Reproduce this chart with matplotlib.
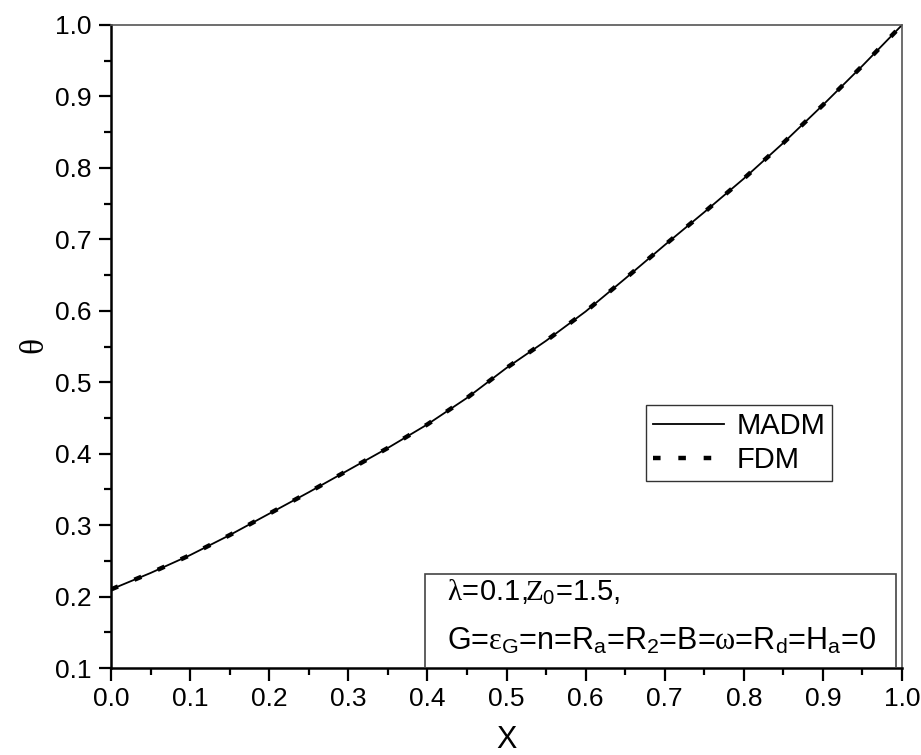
import numpy as np
import matplotlib.pyplot as plt
from matplotlib.patches import Rectangle
from matplotlib.ticker import MultipleLocator

plt.rcParams['font.family'] = ['Liberation Sans', 'DejaVu Sans']
plt.rcParams['mathtext.fontset'] = 'custom'
plt.rcParams['mathtext.rm'] = 'Liberation Sans'
plt.rcParams['mathtext.it'] = 'Liberation Serif'
plt.rcParams['mathtext.bf'] = 'Liberation Sans:bold'

# values
x = [0.0, 0.05, 0.1, 0.15, 0.2, 0.25, 0.3, 0.35, 0.4, 0.45, 0.5,
     0.55, 0.6, 0.65, 0.7, 0.75, 0.8, 0.85, 0.9, 0.95, 1.0]
theta_madm = [0.210, 0.233, 0.258, 0.286, 0.316, 0.346, 0.377, 0.408, 0.441, 0.478, 0.520,
              0.558, 0.599, 0.645, 0.692, 0.738, 0.785, 0.835, 0.888, 0.943, 1.0]
theta_fdm = theta_madm

fig = plt.figure(figsize=(9.21, 7.55), dpi=100)
ax = fig.add_axes([0.1205, 0.1152, 0.8589, 0.8517])

ax.plot(x, theta_madm, '-', color='black', lw=1.3, label='MADM')
ax.plot(x, theta_fdm, color='black', lw=3.2, dashes=(1.7, 4.0), label='FDM')

ax.set_xlim(0, 1.0)
ax.set_ylim(0.1, 1.0)
ax.xaxis.set_major_locator(MultipleLocator(0.1))
ax.xaxis.set_minor_locator(MultipleLocator(0.05))
ax.yaxis.set_major_locator(MultipleLocator(0.1))
ax.yaxis.set_minor_locator(MultipleLocator(0.05))
ax.xaxis.set_major_formatter(lambda v, p: f'{v:.1f}')
ax.yaxis.set_major_formatter(lambda v, p: f'{v:.1f}')

ax.tick_params(which='major', direction='out', length=9, width=1.6, labelsize=19, pad=5)
ax.tick_params(which='minor', direction='out', length=5, width=1.6)
ax.tick_params(top=False, right=False, which='both')

for side in ('left', 'bottom'):
    ax.spines[side].set_linewidth(1.8)
for side in ('top', 'right'):
    ax.spines[side].set_linewidth(1.2)
    ax.spines[side].set_color('#555555')

ax.set_xlabel('X', fontsize=22, labelpad=10)
ax.set_ylabel(r'$\theta$', fontsize=24, labelpad=3)

leg = ax.legend(loc='upper left', bbox_to_anchor=(0.676, 0.409), borderaxespad=0,
                fontsize=21, frameon=True, fancybox=False, handlelength=2.45,
                handletextpad=0.4, borderpad=0.25, labelspacing=0.2)
leg.get_frame().set_edgecolor('black')
leg.get_frame().set_linewidth(1.0)

ax.add_patch(Rectangle((0.397, 0.0), 0.595, 0.146, transform=ax.transAxes,
                       fill=False, edgecolor='#444444', lw=1.2, zorder=3))
ax.text(0.425, 0.118, r'$\lambda\!\mathit{=}\!\mathit{0.1,}\!\!\mathit{Z}_0$=1.5,',
        transform=ax.transAxes, fontsize=21, va='center', ha='left')
ax.text(0.425, 0.042,
        r'G=$\varepsilon_\mathrm{G}$=n=R$_\mathrm{a}$=R$_\mathrm{2}$=B=$\omega$=R$_\mathrm{d}$=H$_\mathrm{a}$=0',
        transform=ax.transAxes, fontsize=22, va='center', ha='left')

fig.savefig('out.png', dpi=100)
